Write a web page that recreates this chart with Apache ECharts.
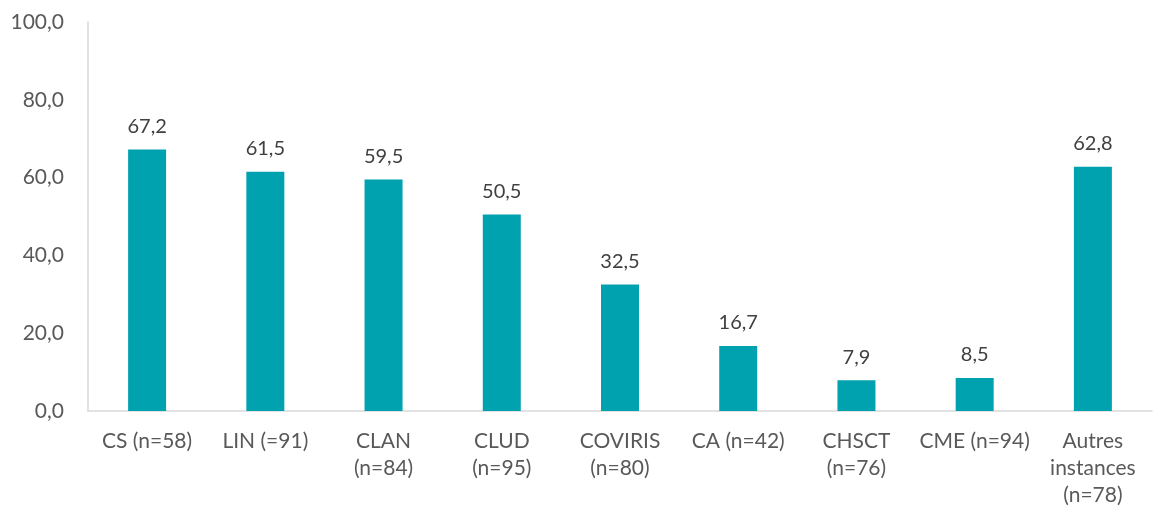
<!DOCTYPE html>
<html lang="fr">
<head>
    <meta charset="UTF-8">
    <script src="https://cdn.jsdelivr.net/npm/echarts@6/dist/echarts.min.js"></script>
    <style>
        html, body { margin: 0; padding: 0; background: #fff; }
        #chart { width: 1167px; height: 513px; }
    </style>
</head>
<body>
<div id="chart"></div>
<script>
    // données
    var categories = ['CS (n=58)', 'LIN (=91)', 'CLAN\n(n=84)', 'CLUD\n(n=95)', 'COVIRIS\n(n=80)',
        'CA (n=42)', 'CHSCT\n(n=76)', 'CME (n=94)', 'Autres\ninstances\n(n=78)'];
    var values = [67.2, 61.5, 59.5, 50.5, 32.5, 16.7, 7.9, 8.5, 62.8];
    var yTicks = [0, 20, 40, 60, 80, 100];

    var fmt = function (v) { return v.toFixed(1).replace('.', ','); };
    var font = 'Lato';

    var myChart = echarts.init(document.getElementById('chart'));
    var option = {
        animation: false,
        grid: { left: 88, right: 15, top: 22, bottom: 102, containLabel: false },
        xAxis: {
            type: 'category',
            data: categories,
            axisLine: { lineStyle: { color: '#d9d9d9', width: 1.5 } },
            axisTick: { show: false },
            axisLabel: {
                interval: 0,
                color: '#595959',
                fontFamily: font,
                fontSize: 21,
                lineHeight: 27,
                margin: 17
            }
        },
        yAxis: {
            type: 'value',
            min: yTicks[0],
            max: yTicks[yTicks.length - 1],
            interval: 20,
            axisLine: { show: true, lineStyle: { color: '#d9d9d9', width: 1.5 } },
            axisTick: { show: false },
            splitLine: { show: false },
            axisLabel: {
                color: '#595959',
                fontFamily: font,
                fontSize: 21,
                margin: 24,
                formatter: fmt
            }
        },
        series: [{
            type: 'bar',
            data: values,
            barWidth: 38,
            itemStyle: { color: '#00a2b0' },
            label: {
                show: true,
                position: 'top',
                distance: 13,
                color: '#404040',
                fontFamily: font,
                fontSize: 20,
                formatter: function (p) { return fmt(p.value); }
            }
        }]
    };
    myChart.setOption(option);
</script>
</body>
</html>
